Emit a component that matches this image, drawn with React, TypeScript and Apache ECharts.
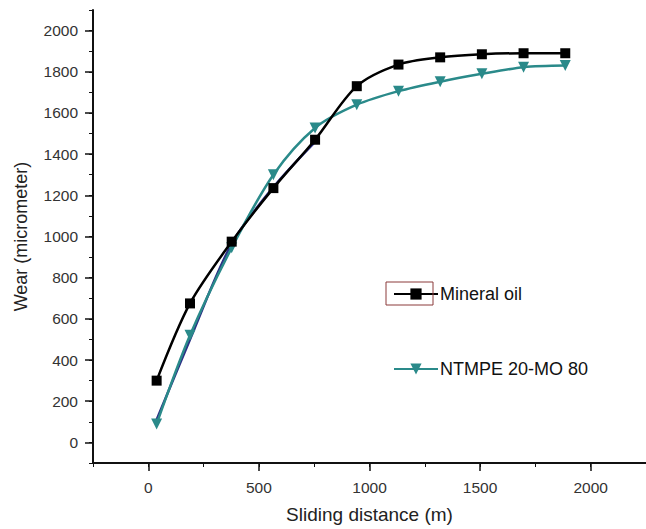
import React, { useEffect, useRef } from "react";
import * as echarts from "echarts";

const distances = [37.7, 188.5, 377, 565.5, 754, 942.5, 1131, 1319.5, 1508, 1696.5, 1885];
const mineralOil = [300, 675, 975, 1235, 1470, 1730, 1835, 1870, 1885, 1890, 1890];
const ntmpe = [90, 520, 945, 1300, 1527, 1640, 1706, 1752, 1790, 1822, 1830];
const traceDistances = [37.7, 188.5, 377, 565.5, 754];
const trace = [110, 500, 965, 1240, 1460];
const xTickLabels = [0, 500, 1000, 1500, 2000];
const yTickLabels = [0, 200, 400, 600, 800, 1000, 1200, 1400, 1600, 1800, 2000];

const FONT = "Liberation Sans, Arial, sans-serif";
const X_MIN = -250;
const X_MAX = 2250;
const Y_MIN = -100;
const Y_MAX = 2100;

export default function App() {
  const ref = useRef<HTMLDivElement>(null);
  useEffect(() => {
    document.body.style.margin = "0";
    const chart = echarts.init(ref.current!, undefined, { renderer: "svg" });
    const pairs = (xs: number[], ys: number[]) => xs.map((x, i) => [x, ys[i]]);
    const labelStyle = {
      fontFamily: FONT,
      fontSize: 15.5,
      color: "#333",
      formatter: (v: number) => String(v),
    };
    chart.setOption({
      animation: false,
      backgroundColor: "#ffffff",
      grid: { left: 93, top: 10, width: 556, height: 456, containLabel: false },
      xAxis: [
        {
          type: "value",
          min: X_MIN,
          max: X_MAX,
          interval: 250,
          name: "Sliding distance (m)",
          nameLocation: "middle",
          nameGap: 42,
          nameTextStyle: { fontFamily: FONT, fontSize: 19, color: "#222" },
          axisLine: { show: true, onZero: false, lineStyle: { color: "#111", width: 2 } },
          axisTick: { show: true, length: 8, customValues: xTickLabels, lineStyle: { color: "#111", width: 1.5 } },
          axisLabel: { ...labelStyle, margin: 16, customValues: xTickLabels },
          splitLine: { show: false },
        },
        {
          type: "value",
          position: "bottom",
          min: X_MIN,
          max: X_MAX,
          interval: 250,
          axisLine: { show: false, onZero: false },
          axisTick: { show: true, length: 4, lineStyle: { color: "#111", width: 1 } },
          axisLabel: { show: false },
          splitLine: { show: false },
        },
      ],
      yAxis: [
        {
          type: "value",
          min: Y_MIN,
          max: Y_MAX,
          interval: 100,
          name: "Wear (micrometer)",
          nameLocation: "middle",
          nameGap: 63,
          nameTextStyle: { fontFamily: FONT, fontSize: 18, color: "#222" },
          axisLine: { show: true, onZero: false, lineStyle: { color: "#111", width: 2 } },
          axisTick: { show: true, length: 8, customValues: yTickLabels, lineStyle: { color: "#111", width: 1.5 } },
          axisLabel: { ...labelStyle, margin: 15, customValues: yTickLabels },
          splitLine: { show: false },
        },
        {
          type: "value",
          position: "left",
          min: Y_MIN,
          max: Y_MAX,
          interval: 100,
          axisLine: { show: false, onZero: false },
          axisTick: { show: true, length: 4, lineStyle: { color: "#111", width: 1 } },
          axisLabel: { show: false },
          splitLine: { show: false },
        },
      ],
      legend: {
        orient: "vertical",
        left: 388,
        top: 280,
        itemWidth: 44,
        itemHeight: 14,
        itemGap: 57,
        data: ["Mineral oil", "NTMPE 20-MO 80"],
        textStyle: { fontFamily: FONT, fontSize: 18, color: "#111", padding: [0, 0, 0, -3] },
      },
      graphic: [
        {
          type: "rect",
          shape: { x: 386, y: 282, width: 47, height: 23 },
          style: { fill: "none", stroke: "#8b3a3a", lineWidth: 1 },
          silent: true,
          z: 100,
        },
      ],
      series: [
        {
          name: "trace",
          type: "line",
          data: pairs(traceDistances, trace),
          smooth: 0.3,
          symbol: "none",
          lineStyle: { color: "#2c2f85", width: 2.5 },
          silent: true,
          z: 1,
        },
        {
          name: "Mineral oil",
          type: "line",
          data: pairs(distances, mineralOil),
          smooth: 0.3,
          symbol: "rect",
          symbolSize: 10,
          itemStyle: { color: "#000" },
          lineStyle: { color: "#000", width: 2.5 },
          z: 3,
        },
        {
          name: "NTMPE 20-MO 80",
          type: "line",
          data: pairs(distances, ntmpe),
          smooth: 0.3,
          symbol: "triangle",
          symbolRotate: 180,
          symbolSize: 11,
          itemStyle: { color: "#2a8a8a" },
          lineStyle: { color: "#2a8a8a", width: 2.5 },
          z: 2,
        },
      ],
    });
    return () => chart.dispose();
  }, []);
  return <div ref={ref} style={{ width: 646, height: 529 }} />;
}
